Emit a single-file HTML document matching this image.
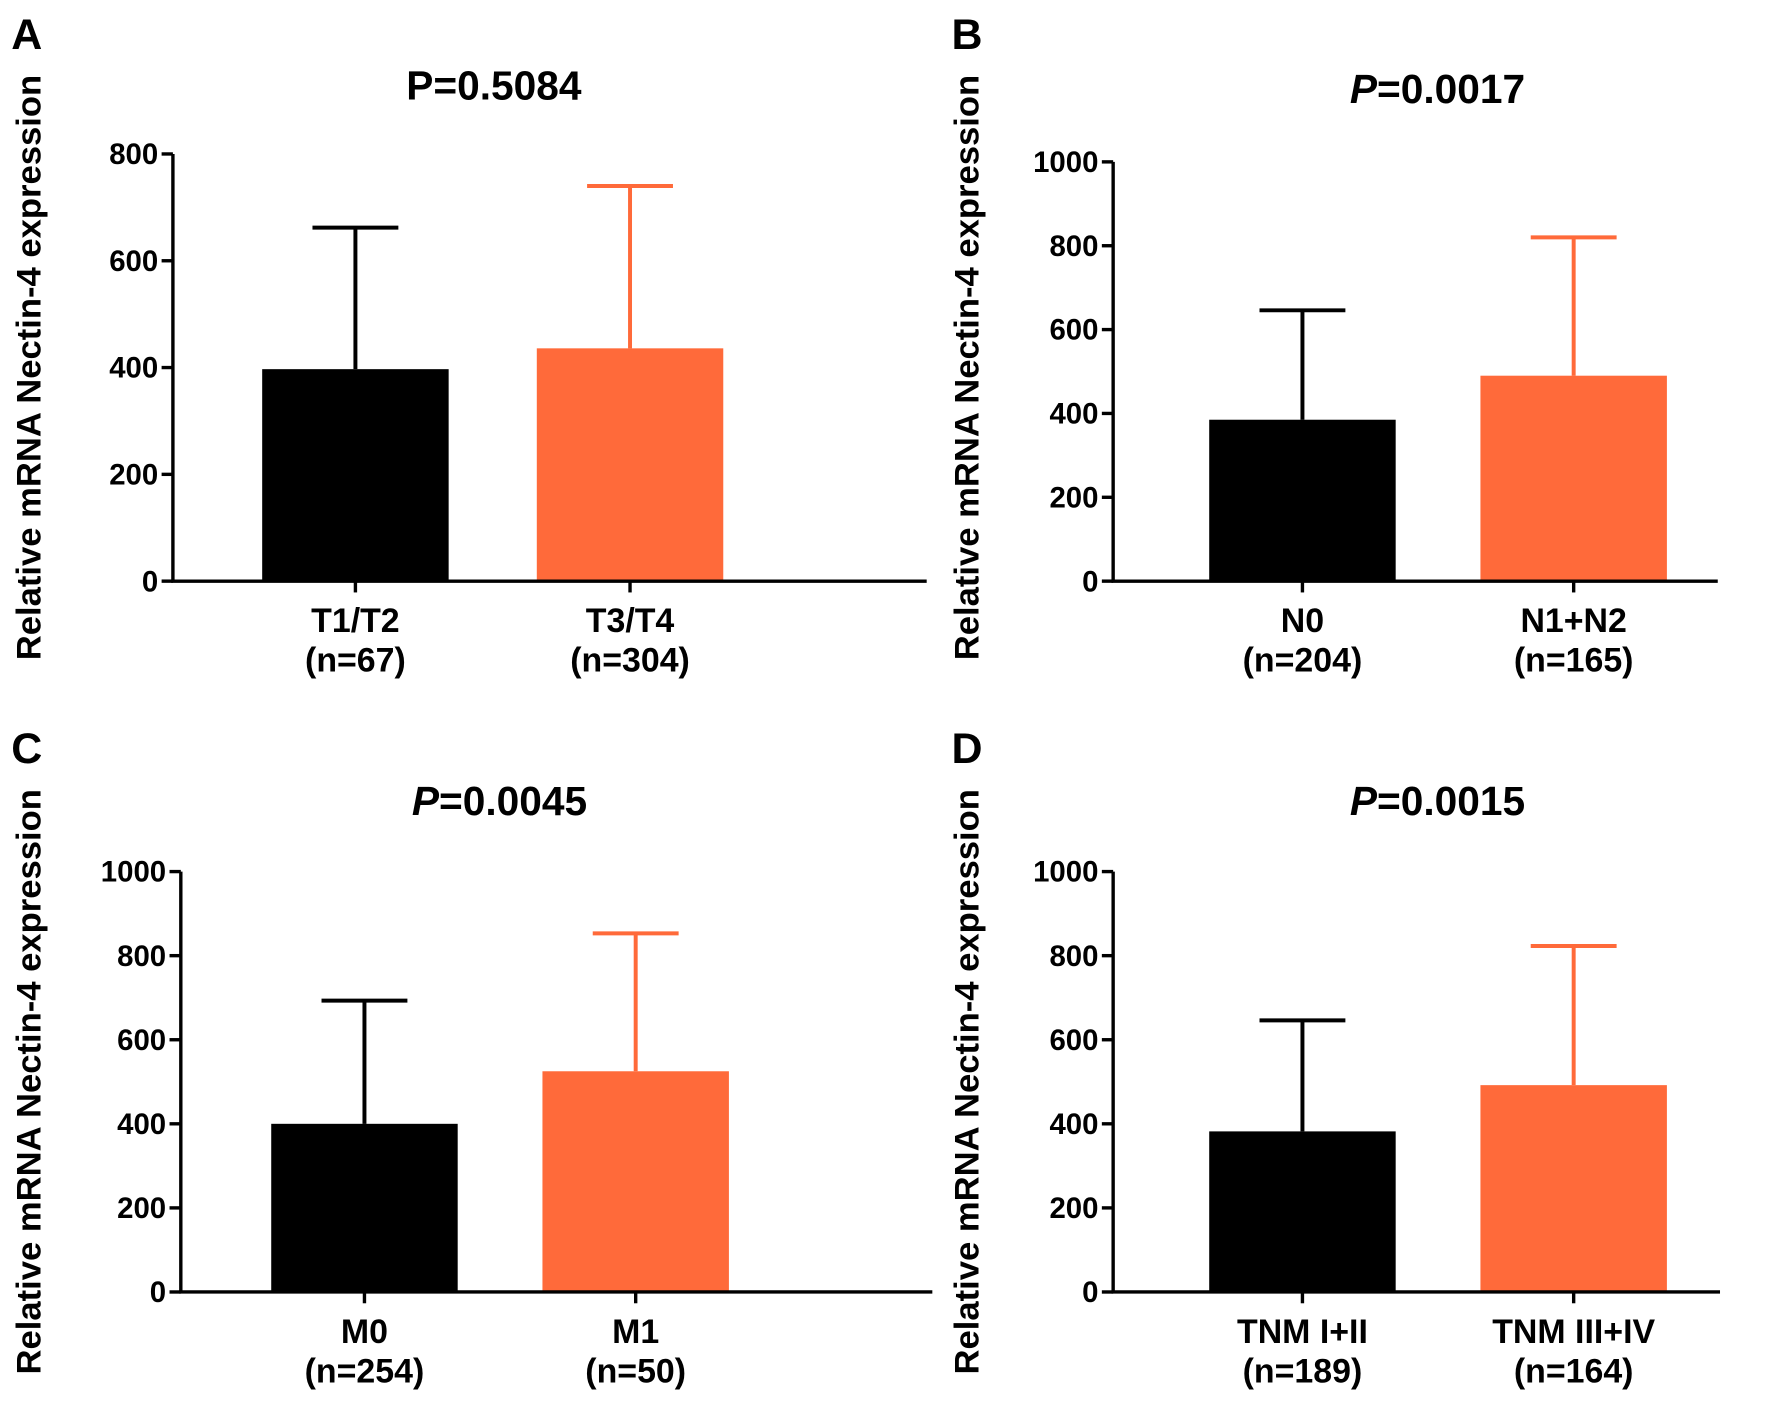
<!DOCTYPE html>
<html><head><meta charset="utf-8"><style>
html,body{margin:0;padding:0;background:#fff;}
svg{display:block;font-family:"Liberation Sans",Arial,sans-serif;font-weight:bold;}
</style></head><body>
<svg id="fig" width="1772" height="1403" viewBox="0 0 1568 1241" xmlns="http://www.w3.org/2000/svg"></svg>
<script>
const panelLetters = ["A","B","C","D"];
const pValues = ["0.5084","0.0017","0.0045","0.0015"];
const pItalic = [false,true,true,true];
const yMaxes = [800,1000,1000,1000];
const yTickLists = [[0,200,400,600,800],[0,200,400,600,800,1000],[0,200,400,600,800,1000],[0,200,400,600,800,1000]];
const catLabels = [["T1/T2","T3/T4"],["N0","N1+N2"],["M0","M1"],["TNM I+II","TNM III+IV"]];
const nLabels = [["(n=67)","(n=304)"],["(n=204)","(n=165)"],["(n=254)","(n=50)"],["(n=189)","(n=164)"]];
const meanValues = [[397,436],[385,490],[400,525],[382,492]];
const errorTops = [[662,740],[646,820],[693,853],[646,823]];
const colors = ["#000000","#FF6A3A"];
// layout (not data)
const layouts = [
 {ax:153,top:136,bot:514,right:820,bx:[232,475],title:437,ty:75,lx:25,lc:325,letter:[10,28]},
 {ax:985,top:143,bot:514,right:1520,bx:[1070,1310],title:1272,ty:78,lx:855,lc:325,letter:[842,28]},
 {ax:160,top:771,bot:1143,right:825,bx:[240,480],title:442,ty:708,lx:25,lc:957,letter:[10,660]},
 {ax:985,top:771,bot:1143,right:1522,bx:[1070,1310],title:1272,ty:708,lx:855,lc:957,letter:[842,660]}
];
const svg=document.getElementById('fig');
const NS="http://www.w3.org/2000/svg";
function mk(tag,attrs,parent){const e=document.createElementNS(NS,tag);for(const k in attrs)e.setAttribute(k,attrs[k]);(parent||svg).appendChild(e);return e;}
layouts.forEach((L,i)=>{
 const g=mk('g',{});
 
 
 const y=v=>L.bot-(v/yMaxes[i])*(L.bot-L.top);
 const bw=165;
 let t=mk('text',{x:L.letter[0],y:L.letter[1]+15,'font-size':38},g);t.textContent=panelLetters[i];
 
 t=mk('text',{x:L.title,y:L.ty+13,'font-size':36,'text-anchor':'middle'},g);
 
 const ts=mk('tspan',{'font-style':pItalic[i]?'italic':'normal'},t);ts.textContent='P';
 const ts2=mk('tspan',{},t);ts2.textContent='='+pValues[i];
 t=mk('text',{x:0,y:0,'font-size':30,'text-anchor':'middle',textLength:518,lengthAdjust:'spacingAndGlyphs',transform:`translate(${L.lx+11},${L.lc}) rotate(-90)`},g);
 t.textContent='Relative mRNA Nectin-4 expression';
 
 for(let j=0;j<2;j++){
  const cx=L.bx[j]+bw/2;
  let l=mk('line',{x1:cx,x2:cx,y1:y(meanValues[i][j]),y2:y(errorTops[i][j]),stroke:colors[j],'stroke-width':3.5},g);
  
  l=mk('line',{x1:cx-38,x2:cx+38,y1:y(errorTops[i][j]),y2:y(errorTops[i][j]),stroke:colors[j],'stroke-width':3.5},g);
  
  const r=mk('rect',{x:L.bx[j],y:y(meanValues[i][j]),width:bw,height:L.bot-y(meanValues[i][j]),fill:colors[j]},g);
  
  mk('line',{x1:cx,x2:cx,y1:L.bot,y2:L.bot+10,stroke:'#000','stroke-width':3},g);
  t=mk('text',{x:cx,y:L.bot+45,'font-size':30,'text-anchor':'middle'},g);t.textContent=catLabels[i][j];
  
  t=mk('text',{x:cx,y:L.bot+80,'font-size':30,'text-anchor':'middle'},g);t.textContent=nLabels[i][j];
  
 }
 let a=mk('line',{x1:L.ax,x2:L.ax,y1:L.top,y2:L.bot,stroke:'#000','stroke-width':3},g);
 
 a=mk('line',{x1:L.ax-1.5,x2:L.right,y1:L.bot,y2:L.bot,stroke:'#000','stroke-width':3},g);
 
 yTickLists[i].forEach(v=>{
  mk('line',{x1:L.ax-10,x2:L.ax,y1:y(v),y2:y(v),stroke:'#000','stroke-width':3},g);
  const tt=mk('text',{x:L.ax-13,y:y(v)+9,'font-size':26,'text-anchor':'end'},g);tt.textContent=v;
  
 });
});
</script>
</body></html>
